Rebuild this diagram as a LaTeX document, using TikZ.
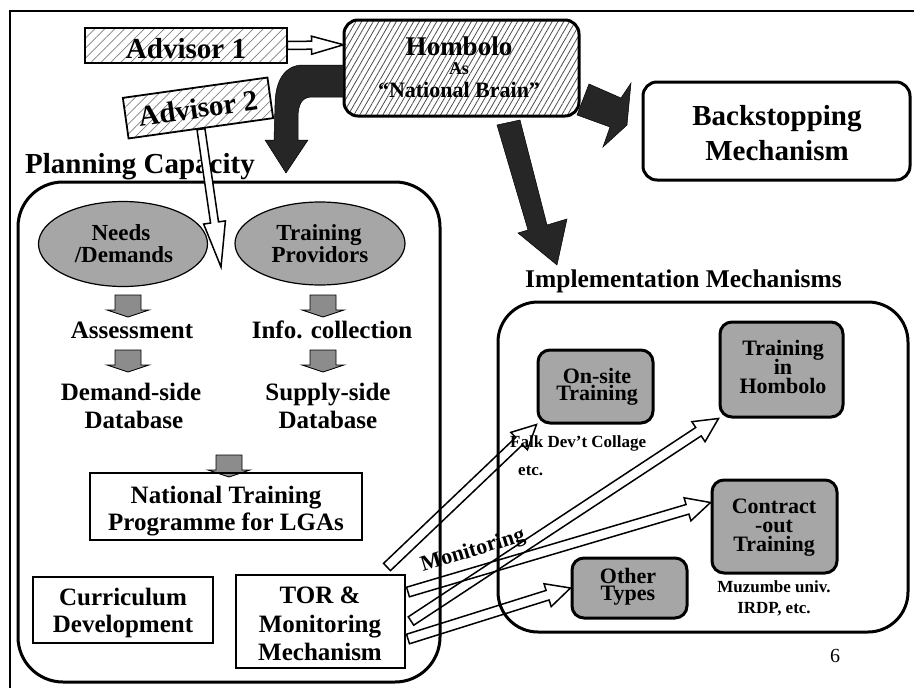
\documentclass[tikz,border=0pt]{standalone}
\usepackage{fontspec}
\setmainfont{Liberation Serif}
\usetikzlibrary{calc,patterns.meta,shapes.geometric}
\newcommand\fsz[1]{\fontsize{#1}{#1}\selectfont}
\newcommand\hollowarrow[6]{%
  \coordinate (hh) at ($(#3)!#6!(#2)$);
  \draw[#1] ($(#2)!#4!90:(#3)$) -- ($(hh)!#4!90:(#3)$) -- ($(hh)!#5!90:(#3)$) -- (#3)
    -- ($(hh)!#5!-90:(#3)$) -- ($(hh)!#4!-90:(#3)$) -- ($(#2)!#4!-90:(#3)$) -- cycle;}
\newcommand\blockdown[2]{%
  \draw[smallarr] (#1-13,#2) -- (#1+13,#2) -- (#1+13,#2+15) -- (#1+21,#2+15)
    -- (#1,#2+22) -- (#1-21,#2+15) -- (#1-13,#2+15) -- cycle;}
\tikzset{
  t/.style={inner sep=0pt, anchor=base, font=\bfseries\fsz{25}},
  frameline/.style={line width=2pt},
  panel/.style={draw, line width=3pt, rounded corners=45pt},
  hatchbox/.style={draw, line width=1.8pt, pattern={Lines[angle=45,distance=7pt,line width=0.7pt]}, pattern color=black!50},
  brainbox/.style={draw, line width=3pt, rounded corners=14pt, pattern={Lines[angle=60,distance=5pt,line width=0.8pt]}, pattern color=black!70},
  roundbox/.style={draw, line width=3pt, rounded corners=14pt},
  graybox/.style={draw, line width=3pt, rounded corners=12pt, fill=black!35},
  grayell/.style={ellipse, draw, line width=1.2pt, fill=black!35, inner sep=0pt},
  plainbox/.style={draw, line width=1.5pt},
  darkarr/.style={fill=black!85, draw=black, line width=0.5pt},
  openarr/.style={draw, line width=1.5pt, line join=miter},
  smallarr/.style={fill=black!45, draw=black, line width=0.8pt},
  small/.style={t, font=\bfseries\fsz{17}},
  boxtxt/.style={t, font=\bfseries\fsz{22}},
}
\begin{document}
\begin{tikzpicture}[x=1pt,y=-1pt]
\useasboundingbox (0,0) rectangle (914,688);
% frame
\coordinate (f1) at (10,688); \coordinate (f2) at (10,11); \coordinate (f3) at (914,11);
\draw[frameline] (f1) -- (f2) -- (f3);

% panels
\node[panel, minimum width=422pt, minimum height=500pt] (plan) at (229,432) {};
\node[panel, rounded corners=40pt, minimum width=410pt, minimum height=330pt] (impl) at (703,467) {};

% advisor 1
\node[hatchbox, minimum width=202pt, minimum height=35pt] (adv1) at (186,45.5) {};
\node[t, font=\bfseries\fsz{29}] (adv1t) at (186,58) {Advisor 1};

% Hombolo
\node[brainbox, minimum width=235pt, minimum height=96pt] (hom) at (461.5,68) {};
\node[t, font=\bfseries\fsz{27}] (homa) at (459,55) {Hombolo};
\node[t, font=\bfseries\fsz{18}] (homb) at (459,74) {As};
\node[t, font=\bfseries\fsz{22}] (homc) at (459,97) {“National Brain”};

% backstopping
\node[roundbox, minimum width=267pt, minimum height=98pt] (back) at (776.5,131) {};
\node[t, font=\bfseries\fsz{29}] (backa) at (777,125) {Backstopping};
\node[t, font=\bfseries\fsz{29}] (backb) at (777,160) {Mechanism};

% headings
\node[t, anchor=base west, font=\bfseries\fsz{29}] (plancap) at (25,173) {Planning Capacity};
\node[t, anchor=base west, font=\bfseries\fsz{25.5}] (impmech) at (525,287) {Implementation Mechanisms};

% ellipses
\node[grayell, minimum width=169pt, minimum height=85pt] (needs) at (123,244) {};
\node[t, font=\bfseries\fsz{23}] (needsa) at (121,240) {Needs};
\node[t, font=\bfseries\fsz{23}] (needsb) at (124,262) {/Demands};
\node[grayell, minimum width=170pt, minimum height=83pt] (prov) at (320,243.5) {};
\node[t, font=\bfseries\fsz{23}] (prova) at (319,240) {Training};
\node[t, font=\bfseries\fsz{23}] (provb) at (320,262) {Providors};

% small arrows
\blockdown{128}{295}
\blockdown{128}{350}
\blockdown{323}{295}
\blockdown{323}{350}
\blockdown{229}{455}

% left column texts
\node[t] (assess) at (132,338) {Assessment};
\node[t] (info) at (332,338) {Info. collection};
\node[t] (dema) at (131,400) {Demand-side};
\node[t] (demb) at (134,428) {Database};
\node[t] (supa) at (328,400) {Supply-side};
\node[t] (supb) at (328,428) {Database};

% plain boxes
\node[plainbox, minimum width=272pt, minimum height=67pt] (ntp) at (226,506.5) {};
\node[t] (ntpa) at (226,503) {National Training};
\node[t] (ntpb) at (226,530) {Programme for LGAs};
\node[plainbox, minimum width=180pt, minimum height=66pt] (cur) at (123,610) {};
\node[t] (cura) at (123,605) {Curriculum};
\node[t] (curb) at (123,632) {Development};
\node[plainbox, minimum width=169pt, minimum height=93pt] (tor) at (320.5,621.5) {};
\node[t] (tora) at (320,603) {TOR \&};
\node[t] (torb) at (320,632) {Monitoring};
\node[t] (torc) at (320,660) {Mechanism};

% implementation boxes
\node[graybox, minimum width=115pt, minimum height=73pt] (onsite) at (595.5,386.5) {};
\node[boxtxt] (onsa) at (597,383) {On-site};
\node[boxtxt] (onsb) at (597,400) {Training};
\node[graybox, minimum width=123pt, minimum height=95pt] (thom) at (781.5,369.5) {};
\node[boxtxt] (thoma) at (783,355) {Training};
\node[boxtxt] (thomb) at (783,374) {in};
\node[boxtxt] (thomc) at (783,393) {Hombolo};
\node[graybox, minimum width=125pt, minimum height=93pt] (contract) at (774.5,526.5) {};
\node[boxtxt] (cona) at (774,513) {Contract};
\node[boxtxt] (conb) at (774,532) {-out};
\node[boxtxt] (conc) at (774,551) {Training};
\node[graybox, minimum width=115pt, minimum height=60pt] (other) at (629.5,588) {};
\node[boxtxt] (otha) at (628,583) {Other};
\node[boxtxt] (othb) at (628,600) {Types};

% small labels
\node[small, anchor=base west] (falk) at (510,447) {Falk Dev’t Collage};
\node[small, anchor=base west] (etc) at (518,475) {etc.};
\node[small] (muz) at (774,592) {Muzumbe univ.};
\node[small] (irdp) at (774,613) {IRDP, etc.};
\node[t, font=\fsz{20}] (pagenum) at (835,662) {6};
\node[t, anchor=base west, rotate=17, font=\bfseries\fsz{22}] (monit) at (423,572) {Monitoring};

% dark arrows
\path[darkarr] (hom.west |- 0,65) -- (303,65) .. controls (284,65) and (275,82) .. (275,105)
  -- (274,140) -- (265,140) -- (286,173) -- (308,140) -- (298,140) -- (298,118)
  .. controls (298,104) and (302,97) .. (312,97) -- (hom.west |- 0,97) -- cycle;
\path[darkarr] (589,84) -- (621,98) -- (631,83) -- (627,125) -- (603,147) -- (610,127) -- (577,115) -- cycle;
\path[darkarr] (497,125) -- (520,120) -- (547,225) -- (567,219) -- (557,265) -- (518,233) -- (528,230) -- cycle;

% hollow arrows
\coordinate (a1e) at ($(hom.north west)!0.26!(hom.south west)$);
\hollowarrow{openarr, fill=white}{adv1.east}{a1e}{4pt}{9pt}{32pt}
\node[hatchbox, rotate=8, minimum width=146pt, minimum height=41pt, inner sep=0pt, font=\bfseries\fsz{29}] (adv2) at (198,108) {Advisor 2};
\coordinate (a2e) at (221,267);
\hollowarrow{openarr, fill=white}{adv2.south}{a2e}{4pt}{11pt}{45pt}

\coordinate (t1) at (387,567);
\coordinate (t2) at (408,592);
\coordinate (t3) at (411,621);
\coordinate (t4) at (408,639);
\coordinate (ce) at ($(contract.west)!0.5!(contract.north west)$);
\hollowarrow{openarr}{t1}{onsite.south west}{5pt}{12pt}{24pt}
\hollowarrow{openarr}{t2}{ce}{5pt}{12pt}{24pt}
\hollowarrow{openarr}{t3}{thom.south west}{5pt}{12pt}{24pt}
\hollowarrow{openarr}{t4}{other.west}{5pt}{12pt}{24pt}
\end{tikzpicture}
\end{document}
